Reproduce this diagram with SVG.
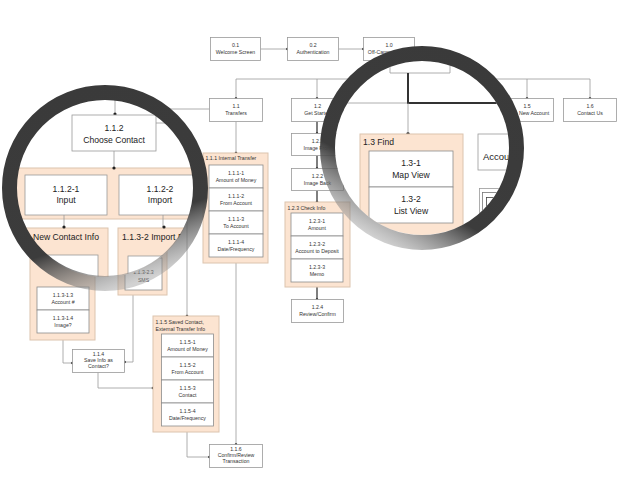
<svg xmlns="http://www.w3.org/2000/svg" width="640" height="480" viewBox="0 0 640 480">
  <defs>
    <style>
      .box { fill:#fff; stroke:#9a9a9a; stroke-width:0.8; }
      .grp { fill:#fce4d1; stroke:#dcc4ae; stroke-width:1; }
      .cell { fill:#fff; stroke:#8c8c8c; stroke-width:0.8; }
      .t { font-family:"Liberation Sans", Arial, sans-serif; font-size:5.2px; fill:#333; text-anchor:middle; }
      .tl { text-anchor:start; }
      .big { font-size:8.6px; fill:#222; }
      .ln { fill:none; stroke:#9a9a9a; stroke-width:0.8; }
      .lnd { fill:none; stroke:#555; stroke-width:1.5; }
      .lnk { fill:none; stroke:#333; stroke-width:2; }
      .dot { fill:#222; }
      .ring { fill:none; stroke-width:15; }
    </style>
    <linearGradient id="ringL" x1="0.3" y1="0" x2="0.65" y2="1">
      <stop offset="0" stop-color="#3a3a3a"/>
      <stop offset="0.72" stop-color="#3c3c3c"/>
      <stop offset="1" stop-color="#9a9a9a" stop-opacity="0.45"/>
    </linearGradient>
    <linearGradient id="ringR" x1="0.75" y1="0" x2="0.2" y2="0.95">
      <stop offset="0" stop-color="#3a3a3a"/>
      <stop offset="0.72" stop-color="#3c3c3c"/>
      <stop offset="1" stop-color="#9a9a9a" stop-opacity="0.45"/>
    </linearGradient>
    <clipPath id="clipL"><circle cx="105" cy="188" r="89"/></clipPath>
    <clipPath id="clipR"><circle cx="422" cy="148" r="87"/></clipPath>
  </defs>

  <rect width="640" height="480" fill="#fff"/>

  <!-- connectors of the flow -->
  <g id="connectors">
    <path class="ln" d="M260.5,49 H287.5 M338.5,49 H363.5"/>
    <path class="ln" d="M389,60.5 V79 M236,79 H590 M236,79 V98.5 M317,79 V98.5 M527,79 V98.5 M590,79 V98.5"/>
    <path class="ln" d="M209.5,109 H170 V123 H150"/>
    <path class="ln" d="M236,121.5 V153 M236,263 V444.5"/>
    <path class="lnd" d="M317,121.5 V133.5 M317,155.5 V168.5 M317,190.5 V202 M317,287 V299.5"/>
    <path class="ln" d="M187,200 V316 M187,432 V457 H209.5"/>
    <path class="ln" d="M63,340 V363 H72.5 M133,295 V362 H124.5 M98,372.5 V388 H153"/>
    <g class="dot">
      <circle cx="287.5" cy="49" r="1.3"/><circle cx="363.5" cy="49" r="1.3"/>
      <circle cx="236" cy="98.5" r="1.3"/><circle cx="317" cy="98.5" r="1.3"/>
      <circle cx="527" cy="98.5" r="1.3"/><circle cx="590" cy="98.5" r="1.3"/>
      <circle cx="236" cy="153" r="1.3"/>
      <circle cx="317" cy="133.5" r="1.3"/><circle cx="317" cy="168.5" r="1.3"/>
      <circle cx="317" cy="202" r="1.3"/><circle cx="317" cy="299.5" r="1.3"/>
      <circle cx="187" cy="316" r="1.3"/><circle cx="209.5" cy="457" r="1.3"/>
      <circle cx="236" cy="444.5" r="1.3"/>
      <circle cx="72.5" cy="363" r="1.3"/><circle cx="124.5" cy="362" r="1.3"/>
      <circle cx="153" cy="388" r="1.3"/>
    </g>
  </g>

  <!-- top row -->
  <g id="n01"><rect class="box" x="210.5" y="37.5" width="50" height="23"/>
    <text class="t" x="235.5" y="47">0.1</text><text class="t" x="235.5" y="54">Welcome Screen</text></g>
  <g id="n02"><rect class="box" x="287.5" y="37.5" width="51" height="23"/>
    <text class="t" x="313" y="47">0.2</text><text class="t" x="313" y="54">Authentication</text></g>
  <g id="n10"><rect class="box" x="363.5" y="37.5" width="51" height="23"/>
    <text class="t" x="389" y="47">1.0</text><text class="t" x="389" y="54">Off-Campus Menu</text></g>

  <!-- second row -->
  <g id="n11"><rect class="box" x="209.5" y="98.5" width="53" height="23"/>
    <text class="t" x="236" y="108">1.1</text><text class="t" x="236" y="115">Transfers</text></g>
  <g id="n12"><rect class="box" x="291.5" y="98.5" width="52" height="23"/>
    <text class="t" x="317.5" y="108">1.2</text><text class="t" x="317.5" y="115">Get Started</text></g>
  <g id="n15"><rect class="box" x="500.5" y="98.5" width="53" height="23"/>
    <text class="t" x="527" y="108">1.5</text><text class="t" x="527" y="115">Open New Account</text></g>
  <g id="n16"><rect class="box" x="563.5" y="98.5" width="53" height="23"/>
    <text class="t" x="590" y="108">1.6</text><text class="t" x="590" y="115">Contact Us</text></g>

  <!-- 1.1 branch -->
  <g id="n111">
    <rect class="grp" x="203" y="153" width="65" height="110"/>
    <text class="t tl" x="205.5" y="160">1.1.1 Internal Transfer</text>
    <rect class="cell" x="209" y="165" width="54" height="23"/>
    <rect class="cell" x="209" y="188" width="54" height="23"/>
    <rect class="cell" x="209" y="211" width="54" height="23"/>
    <rect class="cell" x="209" y="234" width="54" height="23"/>
    <text class="t" x="236" y="174.5">1.1.1-1</text><text class="t" x="236" y="181.5">Amount of Money</text>
    <text class="t" x="236" y="197.5">1.1.1-2</text><text class="t" x="236" y="204.5">From Account</text>
    <text class="t" x="236" y="220.5">1.1.1-3</text><text class="t" x="236" y="227.5">To Account</text>
    <text class="t" x="236" y="243.5">1.1.1-4</text><text class="t" x="236" y="250.5">Date/Frequency</text>
  </g>
  <g id="n1131">
    <rect class="grp" x="30" y="200" width="65" height="140"/>
    <rect class="cell" x="37" y="287" width="52" height="23"/>
    <rect class="cell" x="37" y="310" width="52" height="23"/>
    <text class="t" x="63" y="296.5">1.1.3-1.3</text><text class="t" x="63" y="303.5">Account #</text>
    <text class="t" x="63" y="319.5">1.1.3-1.4</text><text class="t" x="63" y="326.5">Image?</text>
  </g>
  <g id="n1132">
    <rect class="grp" x="118" y="200" width="49" height="95"/>
    <rect class="cell" x="125" y="258" width="37" height="32"/>
    <text class="t" x="143.5" y="274">1.1.3-2.3</text><text class="t" x="143.5" y="282">SMS</text>
  </g>
  <g id="n114"><rect class="box" x="72.5" y="349.5" width="52" height="23"/>
    <text class="t" x="98.5" y="356">1.1.4</text><text class="t" x="98.5" y="362">Save Info as</text><text class="t" x="98.5" y="368">Contact?</text></g>
  <g id="n115">
    <rect class="grp" x="153" y="316" width="66" height="116"/>
    <text class="t tl" x="155.5" y="323.5">1.1.5  Saved Contact,</text>
    <text class="t tl" x="155.5" y="330.5">External Transfer Info</text>
    <rect class="cell" x="161.5" y="334" width="52" height="23"/>
    <rect class="cell" x="161.5" y="357" width="52" height="23"/>
    <rect class="cell" x="161.5" y="380" width="52" height="23"/>
    <rect class="cell" x="161.5" y="403" width="52" height="23"/>
    <text class="t" x="187.5" y="343.5">1.1.5-1</text><text class="t" x="187.5" y="350.5">Amount of Money</text>
    <text class="t" x="187.5" y="366.5">1.1.5-2</text><text class="t" x="187.5" y="373.5">From Account</text>
    <text class="t" x="187.5" y="389.5">1.1.5-3</text><text class="t" x="187.5" y="396.5">Contact</text>
    <text class="t" x="187.5" y="412.5">1.1.5-4</text><text class="t" x="187.5" y="419.5">Date/Frequency</text>
  </g>
  <g id="n116"><rect class="box" x="209.5" y="444.5" width="53" height="23"/>
    <text class="t" x="236" y="451">1.1.6</text><text class="t" x="236" y="457">Confirm/Review</text><text class="t" x="236" y="463">Transaction</text></g>

  <!-- 1.2 branch -->
  <g id="n121"><rect class="box" x="291.5" y="133.5" width="52" height="22"/>
    <text class="t" x="317.5" y="142.5">1.2.1</text><text class="t" x="317.5" y="149.5">Image Front</text></g>
  <g id="n122"><rect class="box" x="291.5" y="168.5" width="52" height="22"/>
    <text class="t" x="317.5" y="177.5">1.2.2</text><text class="t" x="317.5" y="184.5">Image Back</text></g>
  <g id="n123">
    <rect class="grp" x="285" y="202" width="65" height="85"/>
    <text class="t tl" x="287.5" y="209.5">1.2.3 Check Info</text>
    <rect class="cell" x="291" y="213" width="52" height="23"/>
    <rect class="cell" x="291" y="236" width="52" height="23"/>
    <rect class="cell" x="291" y="259" width="52" height="23"/>
    <text class="t" x="317" y="222.5">1.2.3-1</text><text class="t" x="317" y="229.5">Amount</text>
    <text class="t" x="317" y="245.5">1.2.3-2</text><text class="t" x="317" y="252.5">Account to Deposit</text>
    <text class="t" x="317" y="268.5">1.2.3-3</text><text class="t" x="317" y="275.5">Memo</text>
  </g>
  <g id="n124"><rect class="box" x="291.5" y="299.5" width="52" height="23"/>
    <text class="t" x="317.5" y="309">1.2.4</text><text class="t" x="317.5" y="316">Review/Confirm</text></g>

  <!-- left magnifier: enlarged contact choice -->
  <g id="lensLeft">
    <circle cx="105" cy="188" r="89" fill="#fff"/>
    <g clip-path="url(#clipL)">
      <path class="ln" d="M115,90 V114 M156,123 H170 V109 H210"/>
      <circle class="dot" cx="115" cy="114" r="1.6"/>
      <g id="n112"><rect class="box" x="72" y="115" width="84" height="36"/>
        <text class="t big" x="114" y="131">1.1.2</text><text class="t big" x="114" y="143">Choose Contact</text></g>
      <path class="ln" d="M114,151 V168"/>
      <rect class="grp" x="0" y="168" width="215" height="51"/>
      <circle class="dot" cx="114" cy="168" r="1.6"/>
      <g id="n1121"><rect class="box" x="25" y="175" width="82" height="40"/>
        <text class="t big" x="66" y="191.5">1.1.2-1</text><text class="t big" x="66" y="203">Input</text></g>
      <g id="n1122"><rect class="box" x="119" y="175" width="82" height="40"/>
        <text class="t big" x="160" y="191.5">1.1.2-2</text><text class="t big" x="160" y="203">Import</text></g>
      <path class="ln" d="M64,215 V227 M163,215 V227"/>
      <rect class="grp" x="0" y="228" width="108" height="80"/>
      <rect class="grp" x="118" y="228" width="100" height="80"/>
      <circle class="dot" cx="64" cy="227" r="1.6"/><circle class="dot" cx="164" cy="227" r="1.6"/>
      <text class="t big tl" x="33" y="240">New Contact Info</text>
      <text class="t big tl" x="122" y="240">1.1.3-2  Import Data</text>
      <rect class="box" x="37" y="255" width="61" height="50"/>
      <rect class="box" x="128" y="256" width="70" height="50"/>
    </g>
    <circle class="ring" cx="105" cy="188" r="95.5" stroke="url(#ringL)"/>
  </g>

  <!-- right magnifier: enlarged find / account -->
  <g id="lensRight">
    <circle cx="422" cy="148" r="87" fill="#fff"/>
    <g clip-path="url(#clipR)">
      <path class="ln" d="M390,40 V73 H450 V40"/>
      <path class="ln" d="M330,103 H408"/>
      <path class="lnk" d="M408,73 V103 H520"/>
      <path class="ln" d="M408,103 V134" stroke="#333"/>
      <circle class="dot" cx="408" cy="134" r="1.8"/>
      <g id="n13">
        <rect class="grp" x="360" y="134" width="103" height="120"/>
        <text class="t big tl" x="363" y="145">1.3 Find</text>
        <rect class="cell" x="369" y="151" width="84" height="36"/>
        <rect class="cell" x="369" y="187" width="84" height="36"/>
        <text class="t big" x="411" y="166">1.3-1</text><text class="t big" x="411" y="178">Map View</text>
        <text class="t big" x="411" y="202">1.3-2</text><text class="t big" x="411" y="214">List View</text>
      </g>
      <g id="n14"><rect class="box" x="478" y="134" width="70" height="36"/>
        <text class="t big tl" x="483" y="160" style="font-size:9.5px">Account</text></g>
      <rect class="box" x="479.5" y="188.5" width="45" height="45"/>
      <rect class="box" x="482.5" y="192.5" width="45" height="45" style="stroke:#777"/>
      <rect class="box" x="486.5" y="197.5" width="45" height="45" style="stroke:#444"/>
    </g>
    <circle class="ring" cx="422" cy="148" r="94.5" stroke="url(#ringR)"/>
  </g>
</svg>
